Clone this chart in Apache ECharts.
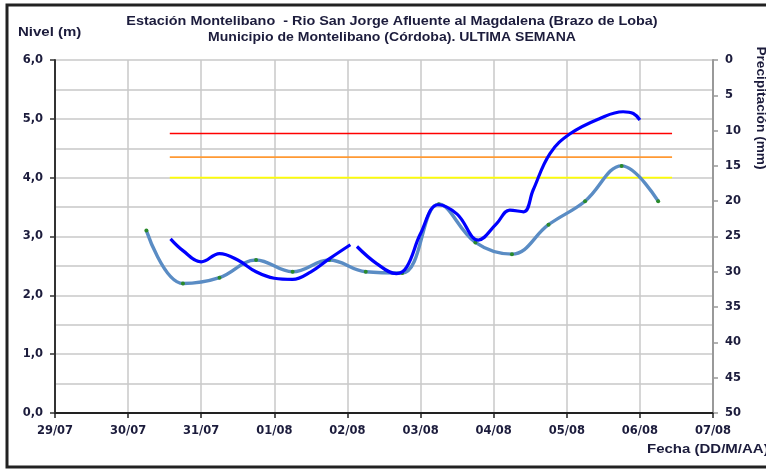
<!DOCTYPE html>
<html>
<head>
<meta charset="utf-8">
<script src="https://cdn.jsdelivr.net/npm/echarts@6/dist/echarts.min.js"></script>
<style>
html,body{margin:0;padding:0;background:#fff;}
#chart{width:766px;height:470px;}
</style>
</head>
<body>
<div id="chart"></div>
<script>
// Tick labels (x axis: day index 0 = 29/07)
const dateLabels = ['29/07','30/07','31/07','01/08','02/08','03/08','04/08','05/08','06/08','07/08'];

// Light (steel blue) level series, every 12 h
const lightDays   = [1.25, 1.75, 2.25, 2.75, 3.25, 3.75, 4.25, 4.75, 5.25, 5.75, 6.25, 6.75, 7.25, 7.75, 8.25];
const lightLevels = [3.1,  2.2,  2.3,  2.6,  2.4,  2.6,  2.4,  2.38, 3.55, 2.9,  2.7,  3.2,  3.6,  4.2,  3.6];

// Dark blue level series (null = gap)
const darkDays   = [1.58, 1.75, 2.0, 2.25, 2.5, 2.75, 3.0, 3.25, 3.5, 3.75, 4.04, 4.08, 4.13, 4.4, 4.67, 4.81, 5.0, 5.24, 5.5, 5.79, 6.04, 6.22, 6.41, 6.54, 6.77, 7.05, 7.46, 7.77, 7.91, 8.0];
const darkLevels = [2.96, 2.76, 2.57, 2.71, 2.60, 2.40, 2.29, 2.27, 2.40, 2.62, 2.86, null, 2.83, 2.54, 2.37, 2.48, 3.05, 3.54, 3.38, 2.94, 3.22, 3.45, 3.42, 3.79, 4.41, 4.75, 5.01, 5.12, 5.09, 4.98];

// Alert thresholds
const thresholdLevels = [4.75, 4.35, 4.0];
const thresholdColors = ['#ff0000', '#ff9933', '#ffff00'];
const thresholdStart = 1.57;
const thresholdEnd = 8.44;

const txt = '#1c1c3c';
const fontFam = '"Liberation Sans", Arial, sans-serif';
const axisFont = '"DejaVu Sans", sans-serif';

const pairs = (xs, ys) => xs.map((x, i) => [x, ys[i] === null ? '-' : ys[i]]);

const series = [];
thresholdLevels.forEach((v, i) => {
  series.push({
    type: 'line', xAxisIndex: 0, yAxisIndex: 0,
    data: [[thresholdStart, v], [thresholdEnd, v]],
    symbol: 'none', silent: true,
    lineStyle: { color: thresholdColors[i], width: 1.6 },
    z: 2
  });
});
series.push({
  type: 'line', data: pairs(lightDays, lightLevels),
  smooth: 0.4, symbol: 'circle', symbolSize: 4, showSymbol: true,
  lineStyle: { color: '#5a8cc4', width: 3.4 },
  itemStyle: { color: '#2a8a2a', borderWidth: 0 },
  z: 3
});
series.push({
  type: 'line', data: pairs(darkDays, darkLevels),
  smooth: 0.4, symbol: 'none', connectNulls: false,
  lineStyle: { color: '#0000ff', width: 3.2 },
  z: 4
});

const chart = echarts.init(document.getElementById('chart'), null, { renderer: 'canvas' });
chart.setOption({
  animation: false,
  backgroundColor: '#fff',
  grid: { left: 55, right: 53, top: 60, bottom: 57, show: false },
  xAxis: {
    type: 'value', min: 0, max: 9, interval: 1,
    axisLine: { show: true, onZero: false, lineStyle: { color: '#222', width: 2 } },
    axisTick: { show: true, length: 5, lineStyle: { color: '#222', width: 1.5 } },
    axisLabel: {
      margin: 12, color: txt, fontFamily: axisFont, fontWeight: 'bold', fontSize: 11.5,
      formatter: v => dateLabels[Math.round(v)] || ''
    },
    splitLine: { show: true, lineStyle: { color: '#c8c8c8', width: 1.5 } }
  },
  yAxis: [
    {
      type: 'value', min: 0, max: 6, interval: 1, position: 'left',
      axisLine: { show: true, lineStyle: { color: '#333', width: 2 } },
      axisTick: { show: true, length: 5, lineStyle: { color: '#333', width: 1.5 } },
      minorTick: { show: false, splitNumber: 2 },
      minorSplitLine: { show: true, lineStyle: { color: '#c8c8c8', width: 1.5 } },
      axisLabel: {
        margin: 12, color: txt, fontFamily: axisFont, fontWeight: 'bold', fontSize: 11.5,
        formatter: v => v.toFixed(1).replace('.', ',')
      },
      splitLine: { show: true, lineStyle: { color: '#c8c8c8', width: 1.5 } }
    },
    {
      type: 'value', min: 0, max: 50, interval: 5, position: 'right', inverse: true,
      axisLine: { show: true, lineStyle: { color: '#999', width: 2 } },
      axisTick: { show: true, length: 5, lineStyle: { color: '#999', width: 1.5 } },
      axisLabel: { margin: 12, color: txt, fontFamily: axisFont, fontWeight: 'bold', fontSize: 11.5 },
      splitLine: { show: false }
    }
  ],
  series: series,
  graphic: [
    { type: 'rect', shape: { x: 7, y: 5, width: 820, height: 462 }, style: { fill: 'none', stroke: '#222', lineWidth: 3 }, silent: true },
    { type: 'text', x: 392, y: 22, scaleX: 1.2, style: { text: 'Estación Montelibano  - Rio San Jorge Afluente al Magdalena (Brazo de Loba)', font: 'bold 12px ' + fontFam, fill: txt, align: 'center', verticalAlign: 'middle' } },
    { type: 'text', x: 392, y: 38, scaleX: 1.17, style: { text: 'Municipio de Montelibano (Córdoba). ULTIMA SEMANA', font: 'bold 12px ' + fontFam, fill: txt, align: 'center', verticalAlign: 'middle' } },
    { type: 'text', x: 18, y: 33, scaleX: 1.25, style: { text: 'Nivel (m)', font: 'bold 12px ' + fontFam, fill: txt, align: 'left', verticalAlign: 'middle' } },
    { type: 'text', x: 647, y: 450, scaleX: 1.25, style: { text: 'Fecha (DD/M/AA)', font: 'bold 12px ' + fontFam, fill: txt, align: 'left', verticalAlign: 'middle' } },
    { type: 'text', x: 760, y: 108, rotation: -Math.PI / 2, scaleX: 1.14, style: { text: 'Precipitación (mm)', font: 'bold 12px ' + fontFam, fill: txt, align: 'center', verticalAlign: 'middle' } }
  ]
});
</script>
</body>
</html>
